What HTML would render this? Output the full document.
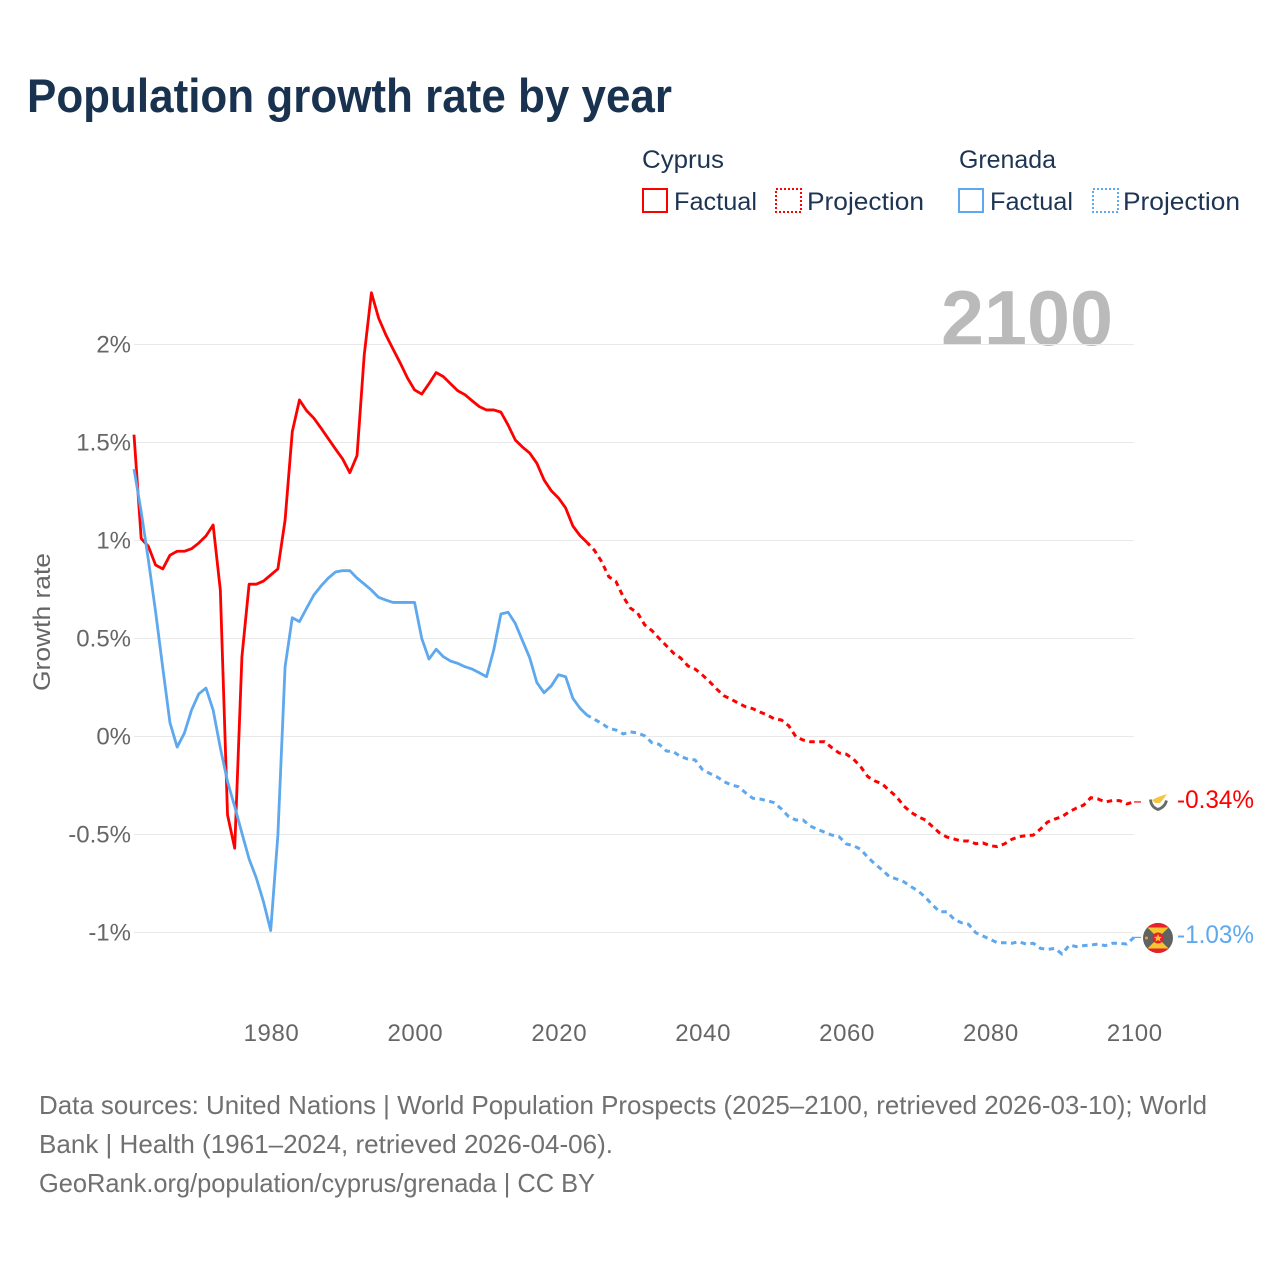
<!DOCTYPE html>
<html lang="en">
<head>
<meta charset="utf-8">
<title>Population growth rate by year</title>
<style>
  html, body { margin: 0; padding: 0; background: #fff; }
  svg { display: block; font-family: "Liberation Sans", sans-serif; }
</style>
</head>
<body>
<svg id="chart" xmlns="http://www.w3.org/2000/svg" width="1280" height="1280" viewBox="0 0 1280 1280">
  <rect x="0" y="0" width="1280" height="1280" fill="#ffffff"/>
  <text x="27" y="112" font-size="47" font-weight="700" fill="#18324f" textLength="645" lengthAdjust="spacingAndGlyphs">Population growth rate by year</text>

  <g font-size="25" fill="#1d3553">
    <text x="642" y="168" textLength="82" lengthAdjust="spacingAndGlyphs">Cyprus</text>
    <rect x="643" y="189" width="24" height="23" fill="none" stroke="#ff0000" stroke-width="2"/>
    <text x="674" y="210" textLength="83" lengthAdjust="spacingAndGlyphs">Factual</text>
    <rect x="776" y="189" width="25" height="23" fill="none" stroke="#ff0000" stroke-width="2" stroke-dasharray="2 2"/>
    <text x="807" y="210" textLength="117" lengthAdjust="spacingAndGlyphs">Projection</text>
    <text x="959" y="168" textLength="97" lengthAdjust="spacingAndGlyphs">Grenada</text>
    <rect x="959" y="189" width="24" height="23" fill="none" stroke="#5ea8ee" stroke-width="2"/>
    <text x="990" y="210" textLength="83" lengthAdjust="spacingAndGlyphs">Factual</text>
    <rect x="1093" y="189" width="25" height="23" fill="none" stroke="#5ea8ee" stroke-width="2" stroke-dasharray="2 2"/>
    <text x="1123" y="210" textLength="117" lengthAdjust="spacingAndGlyphs">Projection</text>
  </g>

  <text x="941" y="345" font-size="78" font-weight="700" fill="#bababa" textLength="172" lengthAdjust="spacingAndGlyphs">2100</text>

  <g id="grid"></g>
  <g id="yticks" font-size="24" fill="#666666" text-anchor="end"></g>
  <g id="xticks" font-size="24" fill="#666666" text-anchor="middle" letter-spacing="0.6"></g>
  <text transform="translate(50,622) rotate(-90)" font-size="24" fill="#666666" text-anchor="middle" textLength="138" lengthAdjust="spacingAndGlyphs">Growth rate</text>

  <g id="series" fill="none" stroke-linejoin="round"></g>

  <g>
    <path d="M1150.5 799.5 Q1151 807 1158 809.5 Q1165 807 1166.5 800.5" fill="none" stroke="#666a68" stroke-width="2.8"/>
    <path d="M1152 800 L1158 797 L1167 794 L1163.5 799 L1160 803 L1155 803 Z" fill="#f5c542"/>
  </g>
  <g>
    <clipPath id="grenada-clip"><circle cx="1158" cy="938" r="15"/></clipPath>
    <g clip-path="url(#grenada-clip)">
      <rect x="1143" y="923" width="30" height="30" fill="#5f6361"/>
      <polygon points="1146,926 1170,926 1158,938" fill="#f5c532"/>
      <polygon points="1146,950 1170,950 1158,938" fill="#f5c532"/>
      <rect x="1143" y="923" width="30" height="4.5" fill="#e8202a"/>
      <rect x="1143" y="948.5" width="30" height="4.5" fill="#e8202a"/>
      <circle cx="1158" cy="938" r="5.5" fill="#e8202a"/>
      <polygon points="1158,934 1159.2,936.8 1162,937 1159.8,938.8 1160.5,941.5 1158,940 1155.5,941.5 1156.2,938.8 1154,937 1156.8,936.8" fill="#f5c532"/>
      <circle cx="1146.5" cy="938" r="1.5" fill="#f0a040"/>
    </g>
  </g>

  <text x="1177" y="808" font-size="25" fill="#ff0000" textLength="77" lengthAdjust="spacingAndGlyphs">-0.34%</text>
  <text x="1177" y="943" font-size="25" fill="#5ea8ee" textLength="77" lengthAdjust="spacingAndGlyphs">-1.03%</text>

  <g font-size="26" fill="#707070">
    <text x="39" y="1114" textLength="1168" lengthAdjust="spacingAndGlyphs">Data sources: United Nations | World Population Prospects (2025–2100, retrieved 2026-03-10); World</text>
    <text x="39" y="1153" textLength="574" lengthAdjust="spacingAndGlyphs">Bank | Health (1961–2024, retrieved 2026-04-06).</text>
    <a><text x="39" y="1192" textLength="556" lengthAdjust="spacingAndGlyphs">GeoRank.org/population/cyprus/grenada | CC BY</text></a>
  </g>
</svg>

<script>
const yTicks = [2, 1.5, 1, 0.5, 0, -0.5, -1];
const yTickLabels = ["2%", "1.5%", "1%", "0.5%", "0%", "-0.5%", "-1%"];
const xTicks = [1980, 2000, 2020, 2040, 2060, 2080, 2100];
const xTickLabels = ["1980", "2000", "2020", "2040", "2060", "2080", "2100"];
const factualStartYear = 1961;
const projectionStartYear = 2025;

const cyprusFactual = [1.54,1.01,.97,.875,.855,.925,.945,.945,.958,.987,1.023,1.079,.747,-.40,-.57,.406,.777,.777,.793,.824,.855,1.104,1.555,1.717,1.662,1.624,1.573,1.52,1.467,1.416,1.346,1.433,1.946,2.264,2.135,2.05,1.977,1.906,1.83,1.768,1.747,1.80,1.857,1.836,1.80,1.764,1.744,1.713,1.683,1.666,1.666,1.655,1.589,1.513,1.477,1.446,1.394,1.309,1.254,1.217,1.166,1.074,1.025,.989];
const cyprusProjection = [.95,.892,.815,.79,.713,.655,.63,.569,.54,.50,.463,.425,.40,.36,.344,.314,.28,.242,.208,.19,.17,.152,.142,.125,.11,.09,.084,.055,-.001,-.018,-.027,-.027,-.027,-.057,-.084,-.09,-.115,-.154,-.205,-.227,-.242,-.276,-.307,-.355,-.387,-.409,-.426,-.46,-.493,-.513,-.523,-.533,-.533,-.547,-.543,-.557,-.562,-.548,-.525,-.511,-.506,-.503,-.472,-.436,-.421,-.409,-.384,-.365,-.35,-.312,-.319,-.334,-.327,-.327,-.344,-.334];
const grenadaFactual = [1.365,1.147,.90,.637,.35,.07,-.054,.017,.135,.217,.247,.135,-.058,-.23,-.358,-.493,-.625,-.722,-.843,-.99,-.503,.356,.606,.586,.655,.722,.768,.808,.839,.846,.846,.808,.778,.747,.71,.696,.684,.684,.684,.684,.50,.395,.445,.407,.385,.373,.356,.344,.325,.305,.441,.625,.634,.577,.489,.402,.275,.223,.258,.315,.305,.195,.144,.108];
const grenadaProjection = [.088,.067,.042,.033,.013,.024,.018,.003,-.032,-.04,-.074,-.078,-.103,-.115,-.12,-.168,-.188,-.205,-.23,-.247,-.256,-.287,-.315,-.319,-.327,-.338,-.37,-.409,-.426,-.426,-.457,-.473,-.489,-.503,-.511,-.548,-.557,-.575,-.616,-.651,-.681,-.715,-.727,-.741,-.766,-.788,-.82,-.86,-.894,-.894,-.933,-.95,-.958,-1.001,-1.018,-1.035,-1.052,-1.052,-1.055,-1.047,-1.059,-1.055,-1.081,-1.086,-1.081,-1.11,-1.064,-1.072,-1.067,-1.064,-1.059,-1.067,-1.055,-1.055,-1.059,-1.025];

const NS = "http://www.w3.org/2000/svg";
const PLOT_LEFT = 134, PLOT_RIGHT = 1134, DOMAIN_START = 1961, DOMAIN_END = 2100;
const ZERO_Y = 736.5, PX_PER_UNIT = 196;

function xScale(year) {
  return PLOT_LEFT + (year - DOMAIN_START) * (PLOT_RIGHT - PLOT_LEFT) / (DOMAIN_END - DOMAIN_START);
}
function yScale(value) {
  return ZERO_Y - value * PX_PER_UNIT;
}
function buildPath(startYear, values) {
  return values.map(function (v, i) {
    return (i ? "L" : "M") + xScale(startYear + i).toFixed(2) + " " + yScale(v).toFixed(2);
  }).join(" ");
}

const grid = document.getElementById("grid");
const yGroup = document.getElementById("yticks");
yTicks.forEach(function (t, i) {
  const line = document.createElementNS(NS, "line");
  
  
  line.setAttribute("x1", PLOT_LEFT);
  line.setAttribute("x2", PLOT_RIGHT);
  line.setAttribute("y1", yScale(t));
  line.setAttribute("y2", yScale(t));
  line.setAttribute("stroke", "#e9e9e9");
  line.setAttribute("stroke-width", "1");
  grid.appendChild(line);

  const label = document.createElementNS(NS, "text");
  
  
  label.setAttribute("x", 131);
  label.setAttribute("y", yScale(t) + 8);
  label.textContent = yTickLabels[i];
  yGroup.appendChild(label);
});

const xGroup = document.getElementById("xticks");
xTicks.forEach(function (t, i) {
  const label = document.createElementNS(NS, "text");
  
  
  label.setAttribute("x", xScale(t) + 0.8);
  label.setAttribute("y", 1041);
  label.textContent = xTickLabels[i];
  xGroup.appendChild(label);
});

const seriesGroup = document.getElementById("series");

function drawFactual(values, color, name) {
  const p = document.createElementNS(NS, "path");
  
  
  p.setAttribute("d", buildPath(factualStartYear, values));
  p.setAttribute("stroke", color);
  p.setAttribute("stroke-width", "2.8");
  seriesGroup.appendChild(p);
}
function drawProjection(factual, values, color, name) {
  const joined = [factual[factual.length - 1]].concat(values);
  const p = document.createElementNS(NS, "path");
  
  
  p.setAttribute("d", buildPath(projectionStartYear - 1, joined));
  p.setAttribute("stroke", color);
  p.setAttribute("stroke-width", "3");
  p.setAttribute("stroke-dasharray", "5.5 4.5");
  p.setAttribute("stroke-dashoffset", "1.5");
  seriesGroup.appendChild(p);
}
function drawConnector(values, color, name) {
  const last = yScale(values[values.length - 1]);
  const c = document.createElementNS(NS, "line");
  
  
  c.setAttribute("x1", PLOT_RIGHT);
  c.setAttribute("x2", PLOT_RIGHT + 7);
  c.setAttribute("y1", last);
  c.setAttribute("y2", last);
  c.setAttribute("stroke", color);
  c.setAttribute("stroke-width", "1.2");
  seriesGroup.appendChild(c);
}

drawFactual(cyprusFactual, "#ff0000", "line-cyprus-factual");
drawProjection(cyprusFactual, cyprusProjection, "#ff0000", "line-cyprus-projection");
drawConnector(cyprusProjection, "#ff0000", "connector-cyprus");
drawFactual(grenadaFactual, "#5ea8ee", "line-grenada-factual");
drawProjection(grenadaFactual, grenadaProjection, "#5ea8ee", "line-grenada-projection");
drawConnector(grenadaProjection, "#5ea8ee", "connector-grenada");
</script>
</body>
</html>
